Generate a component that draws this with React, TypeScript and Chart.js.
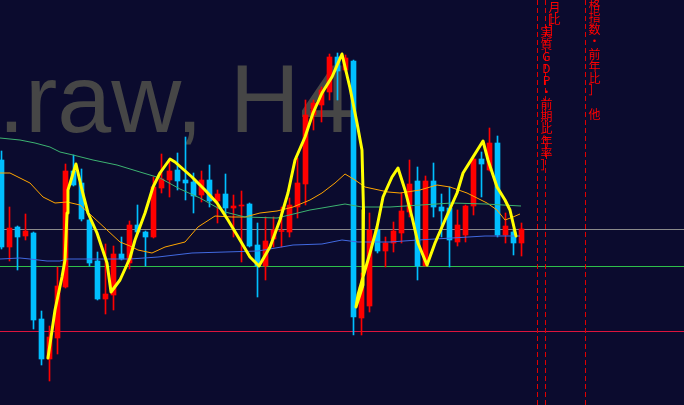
import React, { useEffect, useRef } from 'react';
import { Chart, registerables } from 'chart.js';
Chart.register(...registerables);

// ---- data (H4 candles, index 0..65) ----
const candleOpen = [188.40, 187.53, 187.73, 187.64, 187.67, 186.81, 186.41, 186.62, 187.13, 188.29, 188.17, 187.80, 187.39, 187.01, 187.05, 187.46, 187.37, 187.75, 187.68, 187.63, 188.12, 188.20, 188.30, 188.20, 188.18, 188.05, 188.20, 187.99, 188.06, 187.92, 187.94, 187.96, 187.55, 187.34, 187.61, 187.685, 187.68, 187.93, 188.16, 188.85, 188.95, 189.08, 189.43, 189.30, 189.39, 186.82, 186.94, 187.70, 187.49, 187.57, 187.67, 187.88, 188.19, 187.34, 188.19, 187.93, 187.92, 187.58, 187.65, 187.94, 188.41, 188.30, 188.57, 187.65, 187.68, 187.57];
const candleHigh = [188.49, 187.93, 187.74, 187.86, 187.68, 186.89, 186.74, 187.33, 188.36, 188.45, 188.31, 187.81, 187.48, 187.56, 187.54, 187.63, 187.79, 187.95, 187.69, 188.23, 188.46, 188.41, 188.47, 188.63, 188.27, 188.29, 188.35, 188.10, 188.26, 188.05, 188.09, 187.97, 187.77, 187.83, 187.83, 187.93, 188.02, 188.42, 189.00, 189.00, 189.13, 189.46, 189.47, 189.45, 189.40, 187.27, 187.87, 187.72, 187.63, 187.78, 188.07, 188.40, 188.33, 188.24, 188.37, 188.06, 188.13, 187.90, 187.95, 188.42, 188.48, 188.72, 188.64, 187.87, 187.70, 187.77];
const candleLow = [187.51, 187.39, 187.30, 187.60, 186.71, 186.35, 186.19, 186.46, 187.12, 188.14, 187.79, 187.34, 187.00, 186.86, 186.90, 187.40, 187.31, 187.67, 187.34, 187.62, 188.07, 188.03, 188.10, 188.00, 187.87, 187.98, 187.93, 187.77, 187.83, 187.63, 187.38, 187.53, 187.03, 187.20, 187.53, 187.53, 187.63, 187.82, 187.95, 188.70, 188.78, 189.00, 189.00, 189.28, 186.65, 186.65, 186.88, 187.47, 187.33, 187.48, 187.57, 187.83, 187.20, 187.34, 187.83, 187.63, 187.33, 187.54, 187.58, 187.85, 188.03, 188.29, 187.63, 187.57, 187.45, 187.44];
const candleClose = [187.53, 187.72, 187.63, 187.69, 186.80, 186.41, 186.63, 187.14, 188.29, 188.15, 187.81, 187.37, 187.01, 187.06, 187.46, 187.41, 187.75, 187.68, 187.63, 188.13, 188.21, 188.29, 188.19, 188.17, 188.04, 188.20, 187.99, 188.06, 187.92, 187.94, 187.95, 187.54, 187.34, 187.59, 187.70, 187.69, 187.95, 188.17, 188.85, 188.97, 189.10, 189.43, 189.29, 189.42, 186.83, 187.13, 187.70, 187.49, 187.57, 187.69, 187.89, 188.16, 187.34, 188.19, 187.93, 187.89, 187.60, 187.75, 187.94, 188.41, 188.36, 188.57, 187.65, 187.74, 187.57, 187.71];

// zigzag (smoothed) path: bar position / price
const zigzagIdx = [5.81, 6.69, 7.56, 7.94, 8.19, 8.31, 8.81, 9.31, 10.06, 10.81, 11.94, 13.19, 13.69, 14.81, 16.06, 16.69, 17.94, 18.94, 19.81, 21.06, 21.69, 23.81, 25.44, 26.94, 28.31, 29.81, 31.06, 32.19, 33.56, 34.81, 35.81, 36.69, 37.94, 38.94, 40.06, 41.31, 42.56, 43.56, 44.44, 45.06, 45.25, 45.19, 44.31, 44.56, 45.19, 46.06, 46.94, 47.69, 48.81, 49.56, 50.44, 51.31, 52.06, 53.19, 54.19, 55.44, 56.94, 57.69, 58.94, 60.19, 60.81, 61.94, 62.94, 63.56, 63.94, 64.31];
const zigzagPrice = [186.42, 186.90, 187.23, 187.40, 187.87, 188.10, 188.23, 188.36, 188.10, 187.87, 187.67, 187.37, 187.08, 187.20, 187.42, 187.60, 187.87, 188.13, 188.27, 188.41, 188.38, 188.23, 188.10, 187.97, 187.80, 187.60, 187.43, 187.34, 187.53, 187.80, 188.07, 188.40, 188.63, 188.87, 189.07, 189.23, 189.46, 189.12, 188.77, 188.50, 187.90, 187.15, 186.93, 187.05, 187.23, 187.47, 187.73, 188.03, 188.23, 188.32, 188.10, 187.83, 187.57, 187.35, 187.57, 187.80, 188.07, 188.27, 188.43, 188.59, 188.40, 188.13, 188.00, 187.90, 187.77, 187.64];

// moving averages
const maGreenIdx = [-0.19, 2.31, 4.19, 6.06, 7.31, 8.94, 11.44, 14.44, 17.31, 19.81, 22.31, 24.81, 27.94, 30.44, 34.44, 38.56, 40.06, 42.94, 45.06, 48.56, 56.31, 60.44, 64.94];
const maGreenVal = [188.62, 188.60, 188.57, 188.53, 188.48, 188.45, 188.40, 188.35, 188.28, 188.22, 188.11, 188.02, 187.88, 187.83, 187.82, 187.90, 187.92, 187.96, 187.93, 187.93, 187.97, 187.96, 187.94];
const maOrangeIdx = [-0.19, 1.06, 3.56, 5.19, 6.69, 8.19, 9.81, 11.44, 13.19, 14.81, 16.06, 17.06, 18.81, 20.44, 22.94, 24.56, 26.69, 28.81, 30.44, 32.31, 34.44, 36.44, 38.56, 40.06, 41.69, 42.94, 44.19, 45.44, 48.31, 49.81, 52.31, 54.44, 56.06, 58.19, 60.69, 61.94, 62.94, 63.94, 64.81];
const maOrangeVal = [188.27, 188.27, 188.17, 188.03, 187.97, 187.98, 187.95, 187.83, 187.70, 187.58, 187.54, 187.50, 187.47, 187.53, 187.58, 187.73, 187.84, 187.83, 187.83, 187.87, 187.89, 187.93, 188.00, 188.07, 188.17, 188.26, 188.20, 188.13, 188.08, 188.07, 188.10, 188.15, 188.13, 188.07, 187.97, 187.90, 187.80, 187.83, 187.86];
const maBlueIdx = [-0.19, 2.31, 3.56, 5.69, 7.31, 8.19, 16.06, 19.56, 23.81, 27.94, 32.06, 36.44, 40.06, 42.56, 44.56, 48.56, 52.06, 56.31, 60.44, 64.81];
const maBlueVal = [187.41, 187.42, 187.41, 187.39, 187.39, 187.41, 187.41, 187.43, 187.47, 187.48, 187.49, 187.55, 187.56, 187.60, 187.58, 187.58, 187.60, 187.62, 187.64, 187.64];

// horizontal price levels and economic-event vertical lines
const levelPrices = [187.71, 187.34, 186.69];
const levelColors = ['#8a8a8a', '#2fbf4a', '#dc143c'];
const eventIdx = [67, 68, 73];
const eventLabels = ['［実質GDP・前期比年率］', '月比］', '価格指数・前年比］　他'];
const eventTextTop = [20, 7, -6.5];

const watermark = '.raw, H4';

const BG = '#0b0b2e';
const UP = '#ff0000';
const DOWN = '#00bfff';

const overlayPlugin = {
  id: 'overlay',
  beforeDraw(chart: any) {
    const { ctx, width, height } = chart;
    ctx.save();
    ctx.fillStyle = BG;
    ctx.fillRect(0, 0, width, height);
    ctx.font = '97px "Liberation Sans", Arial, sans-serif';
    ctx.fillStyle = 'rgb(70,70,70)';
    ctx.textAlign = 'left';
    ctx.textBaseline = 'alphabetic';
    ctx.fillText(watermark, -2, 132);
    ctx.restore();
  },
  beforeDatasetsDraw(chart: any) {
    const { ctx, width, height } = chart;
    const xs = chart.scales.x;
    const ys = chart.scales.y;
    ctx.save();
    ctx.lineWidth = 1;
    levelPrices.forEach((p, i) => {
      const py = Math.round(ys.getPixelForValue(p)) + 0.5;
      ctx.strokeStyle = levelColors[i];
      ctx.beginPath();
      ctx.moveTo(0, py);
      ctx.lineTo(width, py);
      ctx.stroke();
    });
    ctx.setLineDash([5, 3]);
    ctx.strokeStyle = '#e00000';
    eventIdx.forEach((ix) => {
      const px = Math.floor(xs.getPixelForValue(ix)) + 0.5;
      ctx.beginPath();
      ctx.moveTo(px, 0);
      ctx.lineTo(px, height);
      ctx.stroke();
    });
    ctx.restore();
  },
  afterDatasetsDraw(chart: any) {
    const { ctx } = chart;
    const xs = chart.scales.x;
    ctx.save();
    ctx.font = '12px "Noto Sans CJK JP", sans-serif';
    ctx.fillStyle = '#ff0000';
    ctx.textAlign = 'center';
    ctx.textBaseline = 'middle';
    eventIdx.forEach((ix, i) => {
      const px = xs.getPixelForValue(ix) + 9;
      const chars = Array.from(eventLabels[i]);
      chars.forEach((ch, j) => {
        ctx.fillText(ch, px, eventTextTop[i] + j * 12.1);
      });
    });
    ctx.restore();
  },
};

export default function App() {
  const ref = useRef<HTMLCanvasElement>(null);
  useEffect(() => {
    document.body.style.margin = '0';
    document.body.style.background = BG;
    const colors = candleOpen.map((o, i) => (candleClose[i] >= o ? UP : DOWN));
    const pts = (xa: number[], ya: number[]) => xa.map((x, i) => ({ x, y: ya[i] }));
    const chart = new Chart(ref.current as HTMLCanvasElement, {
      type: 'bar',
      data: {
        datasets: [
          {
            type: 'line',
            label: 'ZigZag',
            data: pts(zigzagIdx, zigzagPrice),
            borderColor: '#ffff00',
            borderWidth: 3,
            pointRadius: 0,
            tension: 0,
            borderJoinStyle: 'round',
            borderCapStyle: 'round',
            order: 0,
          } as any,
          {
            type: 'line',
            label: 'MA slow',
            data: pts(maGreenIdx, maGreenVal),
            borderColor: '#3cb371',
            borderWidth: 1,
            pointRadius: 0,
            tension: 0,
            order: 1,
          } as any,
          {
            type: 'line',
            label: 'MA mid',
            data: pts(maOrangeIdx, maOrangeVal),
            borderColor: '#ffa500',
            borderWidth: 1,
            pointRadius: 0,
            tension: 0,
            order: 1,
          } as any,
          {
            type: 'line',
            label: 'MA blue',
            data: pts(maBlueIdx, maBlueVal),
            borderColor: '#4169e1',
            borderWidth: 1,
            pointRadius: 0,
            tension: 0,
            order: 1,
          } as any,
          {
            type: 'bar',
            label: 'body',
            data: candleOpen.map((o, i) => ({ x: i, y: [o, candleClose[i]] })),
            backgroundColor: colors,
            borderWidth: 0,
            barThickness: 5,
            minBarLength: 1,
            grouped: false,
            order: 5,
          } as any,
          {
            type: 'bar',
            label: 'wick',
            data: candleLow.map((l, i) => ({ x: i, y: [l, candleHigh[i]] })),
            backgroundColor: colors,
            borderWidth: 0,
            barThickness: 1,
            grouped: false,
            order: 6,
          } as any,
        ],
      },
      options: {
        responsive: false,
        animation: false,
        devicePixelRatio: 1,
        events: [],
        layout: { padding: 0 },
        plugins: { legend: { display: false }, tooltip: { enabled: false } },
        scales: {
          x: { type: 'linear', min: -0.1875, max: 85.3125, offset: false, display: false },
          y: { type: 'linear', min: 185.95, max: 190.0, beginAtZero: false, display: false },
        },
      } as any,
      plugins: [overlayPlugin],
    });
    return () => chart.destroy();
  }, []);
  return (
    <div style={{ width: 684, height: 405 }}>
      <canvas ref={ref} width={684} height={405} style={{ display: 'block' }} />
    </div>
  );
}
